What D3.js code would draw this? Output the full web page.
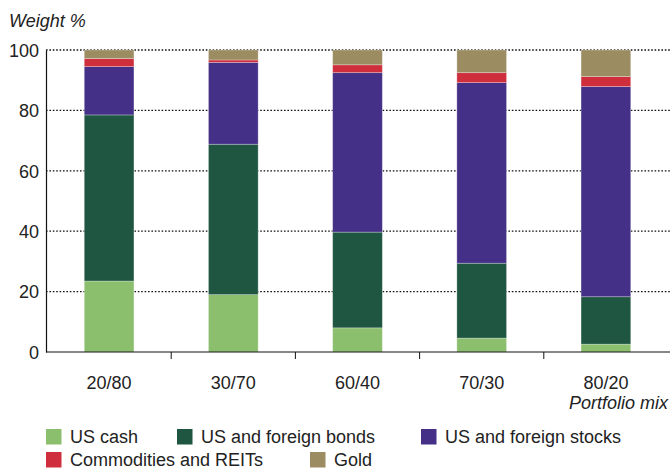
<!DOCTYPE html>
<html><head><meta charset="utf-8">
<script src="https://cdn.jsdelivr.net/npm/d3@7"></script>
<style>body{margin:0;background:#fff}svg{display:block}text{font-family:"Liberation Sans",Arial,sans-serif;fill:#222}</style>
</head><body><svg id="c" width="670" height="470"></svg>
<script>
const categories = ["20/80","30/70","60/40","70/30","80/20"];
const seriesNames = ["US cash","US and foreign bonds","US and foreign stocks","Commodities and REITs","Gold"];
const usCash = [23.5, 19, 8, 4.6, 2.6];
const bonds = [55, 49.8, 31.7, 24.8, 15.7];
const stocks = [16, 27.1, 52.8, 59.8, 69.6];
const commodities = [2.7, 0.8, 2.6, 3.3, 3.3];
const gold = [2.8, 3.3, 4.9, 7.5, 8.8];
const yTicks = [0,20,40,60,80,100];
const colors = ["#8bbf6e","#1e5641","#443087","#cf2f3c","#9c8c61"];

const svg = d3.select("#c");
const x = d3.scaleBand().domain(categories).range([47,668]).paddingInner(0.6).paddingOuter(0.3);
const y = d3.scaleLinear().domain([0,100]).range([352,50]);
const xb = d3.scaleBand().domain(categories).range([47,668]);

const rows = categories.map((c,i)=>({cat:c,"US cash":usCash[i],"US and foreign bonds":bonds[i],"US and foreign stocks":stocks[i],"Commodities and REITs":commodities[i],"Gold":gold[i]}));
const stack = d3.stack().keys(seriesNames)(rows);

// gridlines
svg.append("g").selectAll("line").data(yTicks.filter(t=>t>0)).join("line")
  .attr("x1",46).attr("x2",670).attr("y1",d=>y(d)).attr("y2",d=>y(d))
  .attr("stroke","#111").attr("stroke-width",1.3).attr("stroke-dasharray","1.6,1.8");

// bars
svg.append("g").selectAll("g").data(stack).join("g").attr("fill",(d,i)=>colors[i])
  .selectAll("rect").data(d=>d).join("rect")
  .attr("x",d=>x(d.data.cat)).attr("width",x.bandwidth())
  .attr("y",d=>y(d[1])).attr("height",d=>y(d[0])-y(d[1]))
  .attr("stroke","rgba(255,255,255,0.35)").attr("stroke-width",0.8);

// axes
const yAxis = svg.append("g").attr("transform","translate(46,0)")
  .call(d3.axisLeft(y).tickValues(yTicks).tickSize(0).tickPadding(7));
yAxis.select(".domain").attr("stroke","#111").attr("stroke-width",1.2);
yAxis.selectAll("text").style("font-size","18px").attr("fill","#222").attr("dy","0.35em");

const xAxis = svg.append("g").attr("transform","translate(0,352)")
  .call(d3.axisBottom(x).tickSize(0).tickPadding(24));
xAxis.select(".domain").remove();
xAxis.selectAll("text").style("font-size","18px").attr("fill","#222");
svg.append("line").attr("x1",46).attr("x2",670).attr("y1",352).attr("y2",352).attr("stroke","#111").attr("stroke-width",1.2);
svg.append("g").selectAll("line").data(categories.slice(1)).join("line")
  .attr("x1",d=>xb(d)).attr("x2",d=>xb(d)).attr("y1",352).attr("y2",359)
  .attr("stroke","#111").attr("stroke-width",1);

svg.append("text").attr("x",9).attr("y",27).style("font-style","italic").style("font-size","18px").text("Weight %");
svg.append("text").attr("x",668).attr("y",409).attr("text-anchor","end").style("font-style","italic").style("font-size","18px").text("Portfolio mix");

// legend
const legPos = [[46,429],[177,429],[421,429],[46,452],[310,452]];
const leg = svg.append("g").selectAll("g").data(seriesNames).join("g")
  .attr("transform",(d,i)=>`translate(${legPos[i][0]},${legPos[i][1]})`);
leg.append("rect").attr("width",15.5).attr("height",15.5).attr("fill",(d,i)=>colors[i]);
leg.append("text").attr("x",24).attr("y",14).style("font-size","18px").text(d=>d);
</script></body></html>
